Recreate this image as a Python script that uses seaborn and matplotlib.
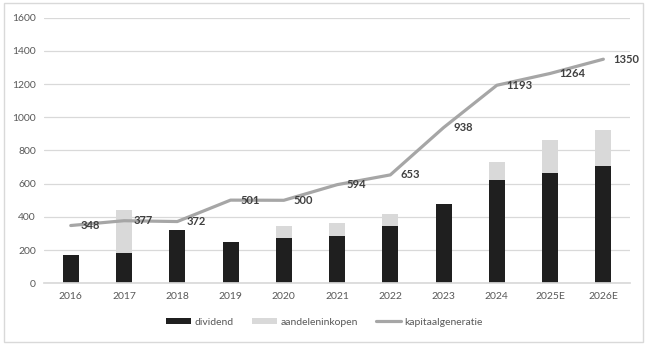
import matplotlib
matplotlib.use("Agg")
import matplotlib.pyplot as plt
from matplotlib.patches import Rectangle
from matplotlib.lines import Line2D
from matplotlib.patches import Patch
import seaborn as sns
import pandas as pd

years = ["2016", "2017", "2018", "2019", "2020", "2021", "2022", "2023", "2024", "2025E", "2026E"]
dividend = [170, 185, 320, 250, 270, 285, 345, 480, 625, 665, 705]
aandeleninkopen = [0, 255, 0, 0, 75, 80, 70, 0, 105, 200, 220]
kapitaalgeneratie = [348, 377, 372, 501, 500, 594, 653, 938, 1193, 1264, 1350]

df = pd.DataFrame({
    "jaar": years,
    "dividend": dividend,
    "aandeleninkopen": aandeleninkopen,
    "kapitaalgeneratie": kapitaalgeneratie,
})
df["totaal"] = df["dividend"] + df["aandeleninkopen"]

sns.set_theme(style="white")
plt.rcParams["font.family"] = ["Lato", "DejaVu Sans"]

c_div = "#1f1f1f"
c_buy = "#d9d9d9"
c_line = "#a6a6a6"
c_text = "#595959"

fig = plt.figure(figsize=(6.49, 3.47), dpi=100)
ax = fig.add_axes([0.068, 0.1836, 0.9027, 0.7654])

sns.barplot(data=df, x="jaar", y="totaal", color=c_buy, width=0.3,
            saturation=1, ax=ax, order=years)
sns.barplot(data=df, x="jaar", y="dividend", color=c_div, width=0.3,
            saturation=1, ax=ax, order=years)
for p in ax.patches:
    p.set_edgecolor("none")

sns.lineplot(data=df, x="jaar", y="kapitaalgeneratie", color=c_line,
             linewidth=2.3, ax=ax, sort=False)

for i, v in enumerate(kapitaalgeneratie):
    ax.annotate(f"{v}", xy=(i, v), xytext=(7, 0), textcoords="offset points",
                ha="left", va="center", fontsize=8, fontweight="bold",
                color="#404040")

ax.set_xlim(-0.5, len(years) - 0.5)
ax.set_ylim(0, 1600)
ax.set_yticks(range(0, 1601, 200))
ax.yaxis.grid(True, color="#d9d9d9", linewidth=0.9)
ax.set_axisbelow(True)
for s in ["top", "right", "left"]:
    ax.spines[s].set_visible(False)
ax.spines["bottom"].set_color("#d9d9d9")
ax.set_xlabel("")
ax.set_ylabel("")
ax.tick_params(axis="both", length=0, labelsize=7.5, labelcolor=c_text, pad=6)

handles = [
    Patch(facecolor=c_div, edgecolor="none", label="dividend"),
    Patch(facecolor=c_buy, edgecolor="none", label="aandeleninkopen"),
    Line2D([0], [0], color=c_line, linewidth=2.3, label="kapitaalgeneratie"),
]
fig.legend(handles=handles, loc="center", bbox_to_anchor=(0.5, 0.072),
           ncol=3, frameon=False, fontsize=7.5, labelcolor=c_text,
           handlelength=2.4, handleheight=0.5, handletextpad=0.3,
           columnspacing=1.8)

fig.patches.append(Rectangle((0.006, 0.015), 0.985, 0.975,
                             transform=fig.transFigure, fill=False,
                             edgecolor="#d9d9d9", linewidth=1.0))

fig.savefig("out.png", dpi=100)
